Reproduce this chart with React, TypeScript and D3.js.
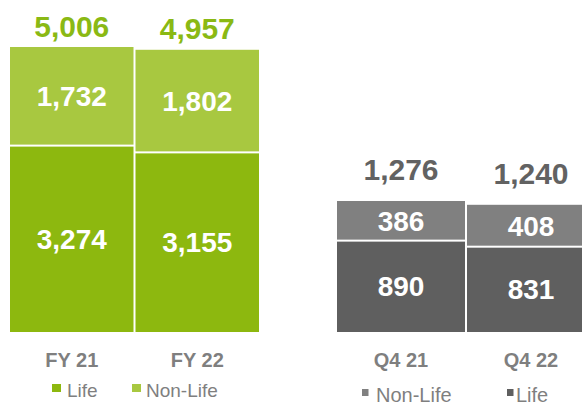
import React from "react";
import * as d3 from "d3";

const fyCategories = ["FY 21", "FY 22"];
const fyLife = [3274, 3155];
const fyNonLife = [1732, 1802];
const fyTotals = [5006, 4957];

const q4Categories = ["Q4 21", "Q4 22"];
const q4Life = [890, 831];
const q4NonLife = [386, 408];
const q4Totals = [1276, 1240];

const fmt = d3.format(",");
const FONT = "'Liberation Sans', Arial, Helvetica, sans-serif";

type PanelProps = {
  cats: string[];
  life: number[];
  nonLife: number[];
  totals: number[];
  xRange: [number, number];
  yTop: number;
  lifeColor: string;
  nonLifeColor: string;
  totalColor: string;
  totalOffset: number;
};

function Panel({ cats, life, nonLife, totals, xRange, yTop, lifeColor, nonLifeColor, totalColor, totalOffset }: PanelProps) {
  const maxTotal = d3.max(totals) as number;
  const x = d3.scaleBand<string>().domain(cats).range(xRange).paddingInner(0).paddingOuter(0);
  const y = d3.scaleLinear().domain([0, maxTotal]).range([332, yTop]);
  const bw = x.bandwidth();
  return (
    <g>
      {cats.map((c, i) => {
        const x0 = (x(c) as number) + 1;
        const w = bw - 2;
        const cx = (x(c) as number) + bw / 2;
        const yLife = y(life[i]);
        const yTot = y(life[i] + nonLife[i]);
        return (
          <g key={c}>
            <rect x={x0} y={yLife + 1} width={w} height={y(0) - yLife - 1} fill={lifeColor} />
            <rect x={x0} y={yTot} width={w} height={yLife - yTot - 1} fill={nonLifeColor} />
            <text x={cx} y={(yLife + y(0)) / 2} dy="0.35em" textAnchor="middle" fill="#fff" fontSize={28} fontWeight="bold" fontFamily={FONT}>
              {fmt(life[i])}
            </text>
            <text x={cx} y={(yTot + yLife) / 2} dy="0.35em" textAnchor="middle" fill="#fff" fontSize={28} fontWeight="bold" fontFamily={FONT}>
              {fmt(nonLife[i])}
            </text>
            <text x={cx} y={yTot - totalOffset} textAnchor="middle" fill={totalColor} fontSize={30} fontWeight="bold" fontFamily={FONT}>
              {fmt(totals[i])}
            </text>
            <text x={cx} y={367} textAnchor="middle" fill="#7f7f7f" fontSize={20} fontWeight="bold" fontFamily={FONT}>
              {c}
            </text>
          </g>
        );
      })}
    </g>
  );
}

export default function App() {
  return (
    <svg width={582} height={404} style={{ position: "absolute", left: 0, top: 0 }}>
      <rect width={582} height={404} fill="#fff" />
      <Panel
        cats={fyCategories}
        life={fyLife}
        nonLife={fyNonLife}
        totals={fyTotals}
        xRange={[9, 260]}
        yTop={47}
        lifeColor="#8db80f"
        nonLifeColor="#a8c840"
        totalColor="#8ab914"
        totalOffset={10.5}
      />
      <Panel
        cats={q4Categories}
        life={q4Life}
        nonLife={q4NonLife}
        totals={q4Totals}
        xRange={[336, 596]}
        yTop={201}
        lifeColor="#5f5f5f"
        nonLifeColor="#808080"
        totalColor="#626262"
        totalOffset={21}
      />
      {/* left legend */}
      <rect x={52} y={384} width={9} height={8} fill="#8db80f" />
      <text x={67} y={397} fill="#7f7f7f" fontSize={19} fontFamily={FONT}>Life</text>
      <rect x={132} y={384} width={9} height={8} fill="#a8c840" />
      <text x={146} y={397} fill="#7f7f7f" fontSize={19} fontFamily={FONT}>Non-Life</text>
      {/* right legend */}
      <rect x={362} y={389} width={6.5} height={7} fill="#808080" />
      <text x={376} y={401.5} fill="#7f7f7f" fontSize={20} fontFamily={FONT}>Non-Life</text>
      <rect x={507} y={389} width={6.5} height={7} fill="#5f5f5f" />
      <text x={516} y={401.5} fill="#7f7f7f" fontSize={20} fontFamily={FONT}>Life</text>
    </svg>
  );
}
